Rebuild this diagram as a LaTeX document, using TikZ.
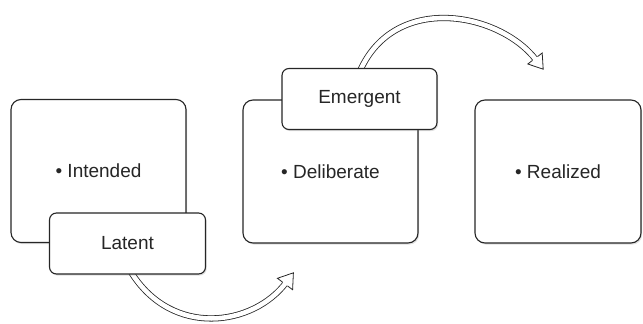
\documentclass[tikz,border=0pt]{standalone}
\usepackage{fontspec}
\setmainfont{Liberation Sans}
\usetikzlibrary{shadows}
\begin{document}
\begin{tikzpicture}[x=1pt,y=-1pt,
  box/.style={draw=black!85, line width=1.1pt, fill=white, inner sep=0pt,
    font=\fontsize{19}{22}\selectfont, text=black!85,
    drop shadow={shadow xshift=1.2pt, shadow yshift=-1.6pt, opacity=0.25}},
  bigbox/.style={box, rounded corners=10pt, minimum height=143pt},
  smallbox/.style={box, rounded corners=7pt, minimum width=155pt, minimum height=61pt},
  hollow/.style={draw=black!85, line width=0.8pt, double=white, double distance=4.6pt},
  headstyle/.style={draw=black!85, line width=0.8pt, fill=white, line join=miter}
]
\useasboundingbox (0,0) rectangle (643,324);

% big boxes
\node[bigbox, minimum width=175pt] (intended) at (98.5,171) {• Intended};
\node[bigbox, minimum width=175pt] (deliberate) at (330.5,171.5) {• Deliberate};
\node[bigbox, minimum width=166pt] (realized) at (558,171.5) {• Realized};

% bottom arrow
\coordinate (bstart) at (131,272);
\coordinate (bend) at (286.2,282.4);
\draw[hollow] (bstart) .. controls (172,338) and (253.2,326.4) .. (bend);
\draw[headstyle] (287.5,285.9) -- (292.6,289.7) -- (293.4,272.8) -- (277.4,278.3) -- (282.5,282.1);

% top arrow
\coordinate (tstart) at (360,71);
\coordinate (tend) at (536.2,60.1);
\draw[hollow] (tstart) .. controls (395,-8) and (499.8,12.4) .. (tend);
\draw[headstyle] (537.5,56.6) -- (542.2,53.0) -- (543.2,69.2) -- (527.8,64.0) -- (532.5,60.4);

% small boxes
\node[smallbox, minimum width=156pt] (latent) at (127.5,243.5) {Latent};
\node[smallbox] (emergent) at (359.5,99) {Emergent};
\end{tikzpicture}
\end{document}
